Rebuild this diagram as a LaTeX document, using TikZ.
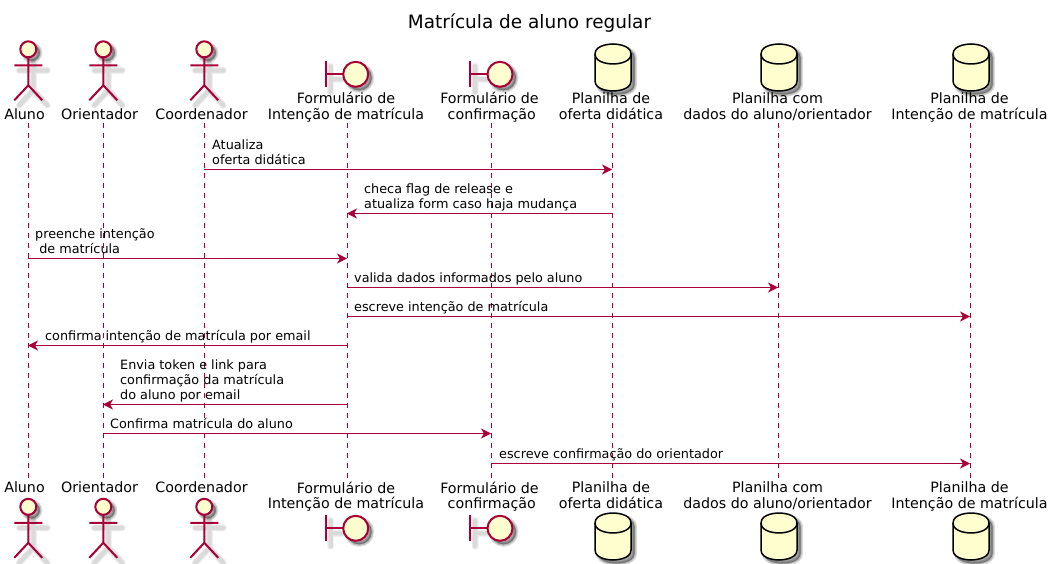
\documentclass[tikz,border=0pt]{standalone}
\usepackage{fontspec}
\setmainfont{DejaVu Sans}
\usetikzlibrary{positioning,arrows.meta}

\definecolor{umlline}{HTML}{A80036}
\definecolor{umlfill}{HTML}{FEFECE}

\newcommand{\softcopy}[1]{%
  \draw[softshadow, line width=7pt] #1;
  \draw[softshadow, line width=5.5pt] #1;
  \draw[softshadow, line width=4pt] #1;
}
\newcommand{\softblob}[1]{%
  \fill[softblob, line width=5pt, draw=black] #1;
  \fill[softblob, line width=3pt, draw=black] #1;
  \fill[softblob, line width=1pt, draw=black] #1;
}
\newcommand{\dbpath}{(-18,10) .. controls (-18,0) and (0,0) .. (0,0) .. controls (0,0) and (18,0) .. (18,10)
  -- (18,37) .. controls (18,47) and (0,47) .. (0,47) .. controls (0,47) and (-18,47) .. (-18,37) -- cycle}

\tikzset{
  softshadow/.style={draw=black, opacity=.05, shift={(5,5)}, line cap=round},
  softblob/.style={fill=black, opacity=.13, shift={(3.5,3.5)}},
  lifeline/.style={umlline, line width=1pt, dash pattern=on 5pt off 5pt},
  msg/.style={umlline, line width=1pt, -{Stealth[length=10pt,width=10pt,inset=3pt]}},
  partlabel/.style={inner sep=0pt, align=center, font=\fontsize{14.25}{15.5}\selectfont,
    execute at begin node=\strut, execute at end node=\strut},
  msglabel/.style={inner sep=0pt, align=left, font=\fontsize{12.8}{15}\selectfont,
    execute at begin node=\strut, execute at end node=\strut},
  pics/actorfig/.style={code={
    \softblob{(0,0) circle (8pt)}
    \softcopy{(0,8) -- (0,36) (-14,16) -- (14,16) (-14,51) -- (0,36) -- (14,51)}
    \draw[umlline, line width=2pt, fill=umlfill] (0,0) circle (8pt);
    \draw[umlline, line width=2pt] (0,8) -- (0,36) (-14,16) -- (14,16) (-14,51) -- (0,36) -- (14,51);
  }},
  pics/boundaryfig/.style={code={
    \softblob{(0,0) circle (12.5pt)}
    \softcopy{(-30,-13) -- (-30,13) (-30,0) -- (-12,0)}
    \draw[umlline, line width=2pt] (-30,-13) -- (-30,13) (-30,0) -- (-12,0);
    \draw[umlline, line width=2pt, fill=umlfill] (0,0) circle (12.5pt);
  }},
  pics/dbfig/.style={code={
    \softblob{\dbpath}
    \draw[black, line width=1.5pt, fill=umlfill] \dbpath;
    \draw[black, line width=1.5pt] (-18,10) .. controls (-18,20) and (0,20) .. (0,20) .. controls (0,20) and (18,20) .. (18,10);
  }},
}

\begin{document}
\begin{tikzpicture}[x=1pt, y=-1pt]
  \useasboundingbox (0,0) rectangle (1053,564);

  \node (title) at (529.5,23) {\fontsize{18.45}{21}\selectfont Matrícula de aluno regular};

  % lifelines
  \coordinate (alunoT) at (28,123);
  \coordinate (alunoB) at (28,478);
  \coordinate (orientT) at (103,123);
  \coordinate (orientB) at (103,478);
  \coordinate (coordT) at (204,123);
  \coordinate (coordB) at (204,478);
  \coordinate (intencaoT) at (347,123);
  \coordinate (intencaoB) at (347,478);
  \coordinate (confirmT) at (491,123);
  \coordinate (confirmB) at (491,478);
  \coordinate (ofertaT) at (612,123);
  \coordinate (ofertaB) at (612,478);
  \coordinate (dadosT) at (778,123);
  \coordinate (dadosB) at (778,478);
  \coordinate (planT) at (970,123);
  \coordinate (planB) at (970,478);

  \draw[lifeline] (alunoT) -- (alunoB);
  \draw[lifeline] (orientT) -- (orientB);
  \draw[lifeline] (coordT) -- (coordB);
  \draw[lifeline] (intencaoT) -- (intencaoB);
  \draw[lifeline] (confirmT) -- (confirmB);
  \draw[lifeline] (ofertaT) -- (ofertaB);
  \draw[lifeline] (dadosT) -- (dadosB);
  \draw[lifeline] (planT) -- (planB);

  % top row
  \pic at (28.3,49.3) {actorfig};
  \pic at (103.3,49.3) {actorfig};
  \pic at (204.3,49.3) {actorfig};
  \pic at (355.7,74.3) {boundaryfig};
  \pic at (500,74.3) {boundaryfig};
  \pic at (613,44) {dbfig};
  \pic at (779,44) {dbfig};
  \pic at (971,44) {dbfig};

  \node[partlabel, anchor=south] (lblAluno) at (24.5,124.2) {Aluno};
  \node[partlabel, anchor=south] (lblOrient) at (99.5,124.2) {Orientador};
  \node[partlabel, anchor=south] (lblCoord) at (201.5,124.2) {Coordenador};
  \node[partlabel, anchor=south] (lblIntencao) at (346,124.2) {Formulário de\\Intenção de matrícula};
  \node[partlabel, anchor=south] (lblConfirm) at (489.5,124.2) {Formulário de\\\ confirmação};
  \node[partlabel, anchor=south] (lblOferta) at (611,124.2) {Planilha de\\oferta didática};
  \node[partlabel, anchor=south] (lblDados) at (777.5,124.2) {Planilha com\\dados do aluno/orientador};
  \node[partlabel, anchor=south] (lblPlan) at (969.5,124.2) {Planilha de\\Intenção de matrícula};

  % bottom row
  \pic at (28.3,506.8) {actorfig};
  \pic at (103.3,506.8) {actorfig};
  \pic at (204.3,506.8) {actorfig};
  \pic at (355.7,528.3) {boundaryfig};
  \pic at (500,528.3) {boundaryfig};
  \pic at (613,513) {dbfig};
  \pic at (779,513) {dbfig};
  \pic at (971,513) {dbfig};

  \node[partlabel, anchor=north] (lblAlunoB) at (24.5,481.6) {Aluno};
  \node[partlabel, anchor=north] (lblOrientB) at (99.5,481.6) {Orientador};
  \node[partlabel, anchor=north] (lblCoordB) at (201.5,481.6) {Coordenador};
  \node[partlabel, anchor=north] (lblIntencaoB) at (346,481.6) {Formulário de\\Intenção de matrícula};
  \node[partlabel, anchor=north] (lblConfirmB) at (489.5,481.6) {Formulário de\\\ confirmação};
  \node[partlabel, anchor=north] (lblOfertaB) at (611,481.6) {Planilha de\\oferta didática};
  \node[partlabel, anchor=north] (lblDadosB) at (777.5,481.6) {Planilha com\\dados do aluno/orientador};
  \node[partlabel, anchor=north] (lblPlanB) at (969.5,481.6) {Planilha de\\Intenção de matrícula};

  % messages
  \coordinate (m1a) at (204,169.5);
  \coordinate (m1b) at (612,169.5);
  \coordinate (m2a) at (612,213.5);
  \coordinate (m2b) at (347,213.5);
  \coordinate (m3a) at (28,258.5);
  \coordinate (m3b) at (347,258.5);
  \coordinate (m4a) at (347,287.5);
  \coordinate (m4b) at (778,287.5);
  \coordinate (m5a) at (347,316.5);
  \coordinate (m5b) at (970,316.5);
  \coordinate (m6a) at (347,345.5);
  \coordinate (m6b) at (28,345.5);
  \coordinate (m7a) at (347,404.5);
  \coordinate (m7b) at (103,404.5);
  \coordinate (m8a) at (103,433.5);
  \coordinate (m8b) at (491,433.5);
  \coordinate (m9a) at (491,463.5);
  \coordinate (m9b) at (970,463.5);

  \draw[msg] (m1a) -- (m1b);
  \draw[msg] (m2a) -- (m2b);
  \draw[msg] (m3a) -- (m3b);
  \draw[msg] (m4a) -- (m4b);
  \draw[msg] (m5a) -- (m5b);
  \draw[msg] (m6a) -- (m6b);
  \draw[msg] (m7a) -- (m7b);
  \draw[msg] (m8a) -- (m8b);
  \draw[msg] (m9a) -- (m9b);

  \node[msglabel, above right=0pt and 8pt of m1a] (t1) {Atualiza\\oferta didática};
  \node[msglabel, above right=0pt and 17pt of m2b] (t2) {checa flag de release e\\atualiza form caso haja mudança};
  \node[msglabel, above right=0pt and 7pt of m3a] (t3) {preenche intenção\\\ de matrícula};
  \node[msglabel, above right=0pt and 7pt of m4a] (t4) {valida dados informados pelo aluno};
  \node[msglabel, above right=0pt and 7pt of m5a] (t5) {escreve intenção de matrícula};
  \node[msglabel, above right=0pt and 17pt of m6b] (t6) {confirma intenção de matrícula por email};
  \node[msglabel, above right=0pt and 17pt of m7b] (t7) {Envia token e link para\\confirmação da matrícula\\do aluno por email};
  \node[msglabel, above right=0pt and 7pt of m8a] (t8) {Confirma matrícula do aluno};
  \node[msglabel, above right=0pt and 8pt of m9a] (t9) {escreve confirmação do orientador};
\end{tikzpicture}
\end{document}
